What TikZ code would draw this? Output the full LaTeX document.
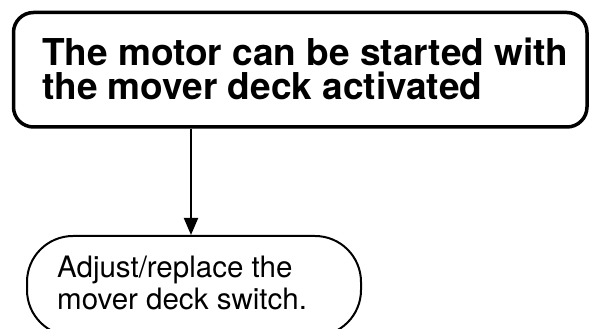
\documentclass[tikz,border=0pt]{standalone}
\usepackage{fontspec}
\setmainfont{TeX Gyre Heros}
\usetikzlibrary{positioning}
\usetikzlibrary{arrows.meta}
\tikzset{condbox/.style = {draw, line width = 3.5pt, rounded corners = 20pt, minimum width = 573.5pt, minimum height = 114.5pt, inner sep = 0}}
\tikzset{fixbox/.style = {draw, line width = 2pt, rounded corners = 46pt, minimum width = 334pt, minimum height = 100pt, inner sep = 0}}
\tikzset{condtext/.style = {align = left, inner sep = 0, font = \fontsize{37}{33.5}\selectfont\bfseries}}
\tikzset{fixtext/.style = {align = left, inner sep = 0, font = \fontsize{29.5}{32}\selectfont}}
\tikzset{flow/.style = {line width = 2pt, -{Triangle[length = 17pt, width = 14pt]}}}

\begin{document}
\begin{tikzpicture}[x = 1pt, y = 1pt]
    \useasboundingbox (0, 0) rectangle (590, 329);

    \node [condbox] (cond) at (300.25, 259.25) {};
    \node [condtext, anchor = west] (condtxt) at (42, 260) {The motor can be started with\\the mover deck activated};

    \node [fixbox] (fix) at (194, 43) {};
    \node [fixtext, anchor = west] (fixtxt) at (57, 46) {Adjust/replace the\\mover deck switch.};

    \draw [flow] ([xshift = -3pt]fix.north |- cond.south) -- ([xshift = -3pt]fix.north);
  \end{tikzpicture}
\end{document}
